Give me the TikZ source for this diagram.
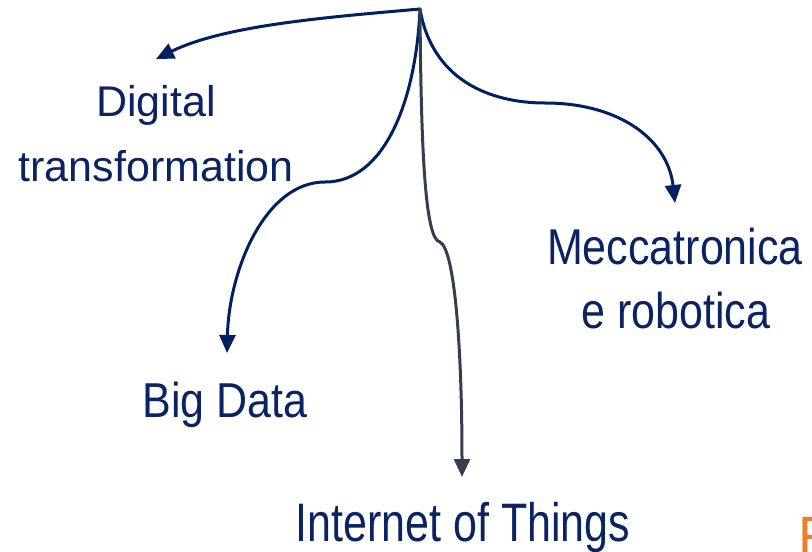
\documentclass[tikz,border=0pt]{standalone}
\usepackage{fontspec}
\usepackage{graphicx}
\setmainfont{Liberation Sans}
\usetikzlibrary{arrows.meta}
\definecolor{navy}{HTML}{002060}
\definecolor{navytext}{HTML}{0B2363}
\definecolor{slate}{HTML}{333F50}
\definecolor{orng}{HTML}{ED7D31}
\begin{document}
\begin{tikzpicture}[x=1pt,y=-1pt,
  lbl/.style={font=\fontsize{43}{50}\selectfont, text=navytext, inner sep=0pt, anchor=base},
  conn/.style={draw=navy, line width=3pt, line cap=round, -{Triangle[length=18pt,width=16pt]}},
  connslate/.style={conn, draw=slate}]
\useasboundingbox (0,0) rectangle (812,552);

% labels
\node[lbl] (dig1) at (156,116) {Digital};
\node[lbl] (dig2) at (156,181) {transformation};
\node[lbl] (big) at (225,417) {\scalebox{1}[1.14]{Big Data}};
\node[lbl] (iot) at (463,541) {\scalebox{1}[1.26]{Internet of Things}};
\node[lbl] (mec1) at (675,264) {\scalebox{1}[1.17]{Meccatronica}};
\node[lbl] (mec2) at (676,328) {\scalebox{1}[1.17]{e robotica}};
\node[font=\fontsize{54}{60}\selectfont, text=orng, inner sep=0pt, anchor=base west] (ff) at (798,554) {F};

% connector ends
\coordinate (top) at (420,9);
\coordinate (tdig) at (156,59);
\coordinate (tbig) at (227,353);
\coordinate (tiot) at (462,477);
\coordinate (tmec) at (675,203);

% connectors
\draw[conn] (top) .. controls (330,17) and (225,25) .. (tdig);
\draw[conn] (top) .. controls (416,100) and (385,182) .. (325,182)
            .. controls (265,182) and (229,270) .. (tbig);
\draw[conn] (top) .. controls (432,80) and (490,103) .. (545,103)
            .. controls (620,103) and (668,140) .. (tmec);
\draw[connslate] (top) .. controls (421,150) and (425,240) .. (440,242)
            .. controls (455,250) and (462,350) .. (tiot);
\end{tikzpicture}
\end{document}
